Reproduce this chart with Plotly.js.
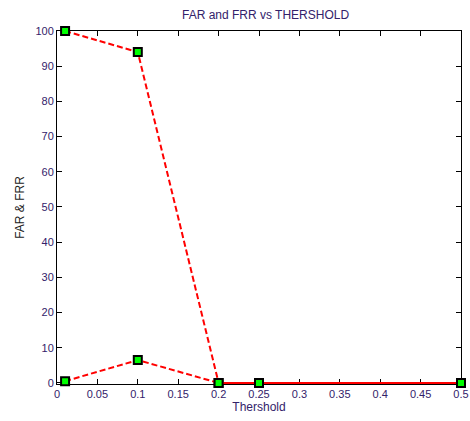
<!DOCTYPE html>
<html><head><meta charset="utf-8">
<script src="https://cdn.plot.ly/plotly-3.0.1.min.js"></script>
<style>html,body{margin:0;padding:0;background:#fff;}#chart{width:470px;height:421px;}</style>
</head><body><div id="chart"></div>
<script>
const thresholds = [0.01, 0.1, 0.2, 0.25, 0.5];
const frr = [100, 94, 0, 0, 0];
const far = [0.5, 6.5, 0, 0, 0];
const xTicks = [0, 0.05, 0.1, 0.15, 0.2, 0.25, 0.3, 0.35, 0.4, 0.45, 0.5];
const xTickText = ['0','0.05','0.1','0.15','0.2','0.25','0.3','0.35','0.4','0.45','0.5'];

const style = {
  mode: 'lines+markers',
  line: {color: '#ff0000', width: 2, dash: '6px,3px'},
  marker: {symbol: 'square', size: 8, color: '#00ff00', line: {color: '#000', width: 2}},
  cliponaxis: false,
  showlegend: false
};
const traces = [
  Object.assign({x: thresholds, y: frr, name: 'FRR'}, style),
  Object.assign({x: thresholds, y: far, name: 'FAR'}, style)
];
const axisBase = {
  showgrid: false, zeroline: false, showline: true, linecolor: '#000', linewidth: 1,
  mirror: 'ticks', ticks: 'inside', ticklen: 5, tickcolor: '#000', layer: 'below traces',
  tickfont: {family: 'Liberation Sans, Arial, sans-serif', size: 11, color: '#33226a'}
};
const layout = {
  width: 470, height: 421,
  margin: {l: 57, r: 9, t: 31, b: 37},
  paper_bgcolor: '#fff', plot_bgcolor: '#fff',
  title: {text: 'FAR and FRR vs THERSHOLD', x: 0.565, xanchor: 'center', y: 0.965, yanchor: 'middle',
          font: {family: 'Liberation Sans, Arial, sans-serif', size: 12, color: '#33226a'}},
  xaxis: Object.assign({}, axisBase, {range: [0, 0.5], tickvals: xTicks, ticktext: xTickText, ticklabeloverflow: 'allow',
    title: {text: 'Thershold', standoff: 2, font: {family: 'Liberation Sans, Arial, sans-serif', size: 12, color: '#33226a'}}}),
  yaxis: Object.assign({}, axisBase, {range: [-0.3, 100], dtick: 10,
    title: {text: 'FAR &amp; FRR', standoff: 8, font: {family: 'Liberation Sans, Arial, sans-serif', size: 12, color: '#222'}}})
};
Plotly.newPlot('chart', traces, layout, {displayModeBar: false, staticPlot: true});
</script></body></html>
